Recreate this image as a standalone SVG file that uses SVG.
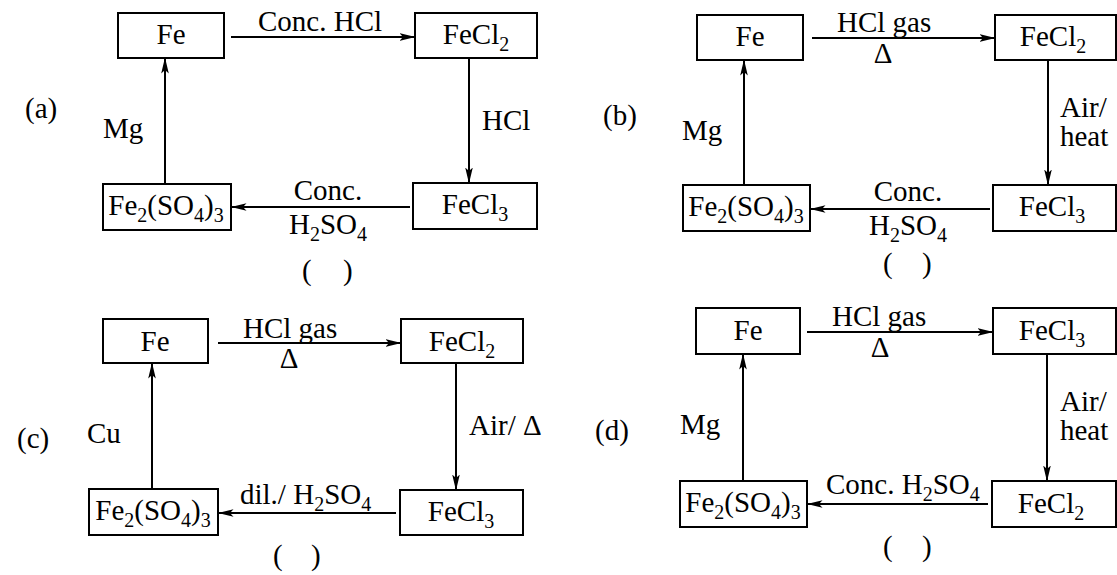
<svg xmlns="http://www.w3.org/2000/svg" width="1117" height="575" viewBox="0 0 1117 575">
<defs>
<marker id="ah" markerUnits="userSpaceOnUse" markerWidth="16" markerHeight="10" viewBox="0 0 16 10" refX="15.5" refY="5" orient="auto">
<path d="M0,1.2 L16,5 L0,8.8 L3.5,5 z" fill="#000"/>
</marker>
<style>
.box{fill:#fff;stroke:#000;stroke-width:2}
.ln{fill:none;stroke:#000;stroke-width:2;marker-end:url(#ah)}
text{font-family:'Liberation Serif','Times New Roman',serif;font-size:29px;fill:#000}
.m{text-anchor:middle}
.s{font-size:20px}
</style>
</defs>
<rect width="1117" height="575" fill="#fff"/>

<!-- Panel (a) -->
<g id="panel-a">
<g id="connectors-a">
<line class="ln" x1="231" y1="37" x2="415" y2="37"/>
<line class="ln" x1="469" y1="58" x2="469" y2="183"/>
<line class="ln" x1="410" y1="207" x2="231" y2="207"/>
<line class="ln" x1="165" y1="184" x2="165" y2="58"/>
<text class="m" x="320" y="31">Conc. HCl</text>
<text x="482" y="130">HCl</text>
<text class="m" x="328" y="200">Conc.</text>
<text class="m" x="328" y="234">H<tspan class="s" dy="7">2</tspan><tspan dy="-7">SO</tspan><tspan class="s" dy="7">4</tspan></text>
<text x="103" y="138">Mg</text>
</g>
<g id="a-fe"><rect class="box" x="118" y="13" width="106" height="45"/><text class="m" x="171" y="44">Fe</text></g>
<g id="a-fecl2"><rect class="box" x="415" y="13" width="122" height="45"/><text class="m" x="476" y="44">FeCl<tspan class="s" dy="7">2</tspan></text></g>
<g id="a-fecl3"><rect class="box" x="413" y="183" width="124" height="46"/><text class="m" x="475" y="214">FeCl<tspan class="s" dy="7">3</tspan></text></g>
<g id="a-fe2so43"><rect class="box" x="103" y="184" width="128" height="46"/><text class="m" x="166" y="215">Fe<tspan class="s" dy="7">2</tspan><tspan dy="-7">(SO</tspan><tspan class="s" dy="7">4</tspan><tspan dy="-7">)</tspan><tspan class="s" dy="7">3</tspan></text></g>
<text x="25" y="118">(a)</text>
<text x="302" y="280">(</text><text x="343" y="280">)</text>
</g>

<!-- Panel (b) -->
<g id="panel-b">
<g id="connectors-b">
<line class="ln" x1="812" y1="38" x2="995" y2="38"/>
<line class="ln" x1="1048" y1="60" x2="1048" y2="185"/>
<line class="ln" x1="990" y1="209" x2="810" y2="209"/>
<line class="ln" x1="744" y1="185" x2="744" y2="60"/>
<text x="837" y="32">HCl gas</text>
<text class="m" x="883" y="63">Δ</text>
<text x="1060" y="117">Air/</text>
<text x="1060" y="146">heat</text>
<text class="m" x="908" y="201">Conc.</text>
<text class="m" x="908" y="235">H<tspan class="s" dy="7">2</tspan><tspan dy="-7">SO</tspan><tspan class="s" dy="7">4</tspan></text>
<text x="682" y="140">Mg</text>
</g>
<g id="b-fe"><rect class="box" x="697" y="15" width="106" height="45"/><text class="m" x="750" y="46">Fe</text></g>
<g id="b-fecl2"><rect class="box" x="995" y="15" width="121" height="45"/><text class="m" x="1053" y="46">FeCl<tspan class="s" dy="7">2</tspan></text></g>
<g id="b-fecl3"><rect class="box" x="993" y="185" width="123" height="46"/><text class="m" x="1052" y="216">FeCl<tspan class="s" dy="7">3</tspan></text></g>
<g id="b-fe2so43"><rect class="box" x="683" y="185" width="127" height="46"/><text class="m" x="746" y="216">Fe<tspan class="s" dy="7">2</tspan><tspan dy="-7">(SO</tspan><tspan class="s" dy="7">4</tspan><tspan dy="-7">)</tspan><tspan class="s" dy="7">3</tspan></text></g>
<text x="603" y="125">(b)</text>
<text x="883" y="273">(</text><text x="922" y="273">)</text>
</g>

<!-- Panel (c) -->
<g id="panel-c">
<g id="connectors-c">
<line class="ln" x1="218" y1="343" x2="401" y2="343"/>
<line class="ln" x1="456" y1="363" x2="456" y2="490"/>
<line class="ln" x1="396" y1="513" x2="218" y2="513"/>
<line class="ln" x1="152" y1="489" x2="152" y2="363"/>
<text x="243" y="338">HCl gas</text>
<text class="m" x="289" y="368">Δ</text>
<text x="469" y="435">Air/ Δ</text>
<text x="240" y="504">dil./ H<tspan class="s" dy="7">2</tspan><tspan dy="-7">SO</tspan><tspan class="s" dy="7">4</tspan></text>
<text x="87" y="443">Cu</text>
</g>
<g id="c-fe"><rect class="box" x="103" y="319" width="105" height="44"/><text class="m" x="155" y="351">Fe</text></g>
<g id="c-fecl2"><rect class="box" x="401" y="319" width="122" height="44"/><text class="m" x="462" y="351">FeCl<tspan class="s" dy="7">2</tspan></text></g>
<g id="c-fecl3"><rect class="box" x="400" y="490" width="123" height="45"/><text class="m" x="461" y="521">FeCl<tspan class="s" dy="7">3</tspan></text></g>
<g id="c-fe2so43"><rect class="box" x="89" y="489" width="129" height="46"/><text class="m" x="153" y="520">Fe<tspan class="s" dy="7">2</tspan><tspan dy="-7">(SO</tspan><tspan class="s" dy="7">4</tspan><tspan dy="-7">)</tspan><tspan class="s" dy="7">3</tspan></text></g>
<text x="17" y="448">(c)</text>
<text x="273" y="565">(</text><text x="311" y="565">)</text>
</g>

<!-- Panel (d) -->
<g id="panel-d">
<g id="connectors-d">
<line class="ln" x1="807" y1="332" x2="993" y2="332"/>
<line class="ln" x1="1047" y1="354" x2="1047" y2="481"/>
<line class="ln" x1="988" y1="504" x2="807" y2="504"/>
<line class="ln" x1="743" y1="481" x2="743" y2="354"/>
<text x="832" y="326">HCl gas</text>
<text class="m" x="880" y="357">Δ</text>
<text x="1060" y="411">Air/</text>
<text x="1060" y="440">heat</text>
<text x="826" y="494">Conc. H<tspan class="s" dy="7">2</tspan><tspan dy="-7">SO</tspan><tspan class="s" dy="7">4</tspan></text>
<text x="680" y="434">Mg</text>
</g>
<g id="d-fe"><rect class="box" x="696" y="308" width="104" height="46"/><text class="m" x="748" y="340">Fe</text></g>
<g id="d-fecl3"><rect class="box" x="993" y="308" width="123" height="46"/><text class="m" x="1052" y="340">FeCl<tspan class="s" dy="7">3</tspan></text></g>
<g id="d-fecl2"><rect class="box" x="992" y="481" width="124" height="46"/><text class="m" x="1051" y="513">FeCl<tspan class="s" dy="7">2</tspan></text></g>
<g id="d-fe2so43"><rect class="box" x="680" y="481" width="127" height="46"/><text class="m" x="743" y="512">Fe<tspan class="s" dy="7">2</tspan><tspan dy="-7">(SO</tspan><tspan class="s" dy="7">4</tspan><tspan dy="-7">)</tspan><tspan class="s" dy="7">3</tspan></text></g>
<text x="595" y="440">(d)</text>
<text x="883" y="556">(</text><text x="922" y="556">)</text>
</g>
</svg>
